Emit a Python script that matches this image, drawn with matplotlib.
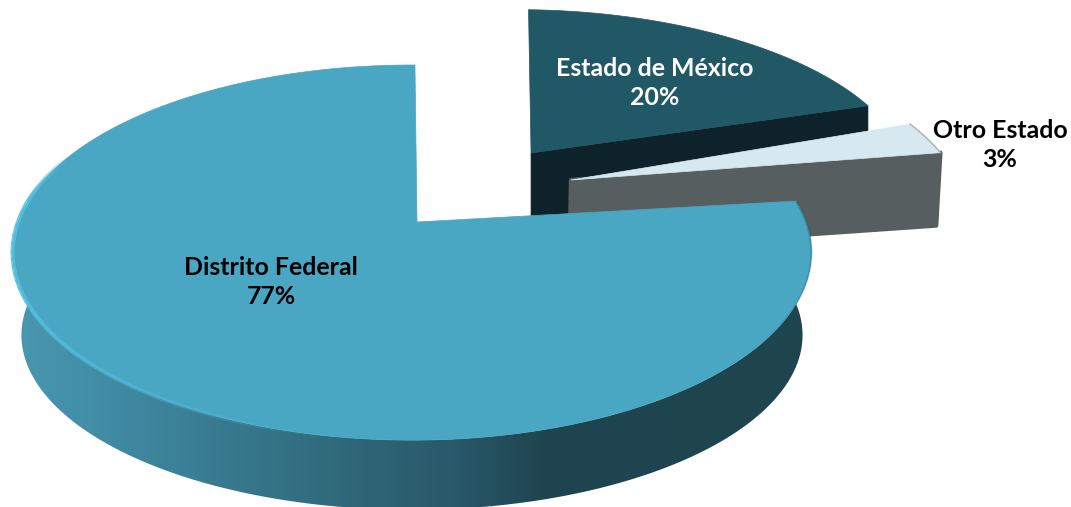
import numpy as np
import matplotlib
matplotlib.use("Agg")
import matplotlib.pyplot as plt
from matplotlib.collections import LineCollection
from matplotlib.colors import LinearSegmentedColormap, to_rgb
from matplotlib.patches import Polygon

categories = ["Distrito Federal", "Estado de México", "Otro Estado"]
values = [77, 20, 3]
labels = ["77%", "20%", "3%"]

# order the slices are laid out clockwise, starting from the top
layout = [1, 2, 0]
explode = {0: (0.0, 0.0), 1: (0.33, 0.435), 2: (0.44, 0.262)}
apex_shift = {0: (0.0127, 0.0), 1: (-0.008, -0.032), 2: (-0.021, -0.023)}
turn = {0: 0.5, 1: 2.0, 2: -1.0}
top_colors = {0: "#49a7c3", 1: "#215865", 2: "#d6e9f0"}
wall_colors = {1: "#0e2229", 2: "#565e60"}
wall_h = {0: 85, 1: 62, 2: 68}
shrink = {0: 0.978, 1: 1.0, 2: 0.992}

# fake 3d: perspective squeeze of the pie disc
CX, CY = 412, 222
R = 394
A, C = -146.4, 0.163


def project(u, v, i=None):
    s = 1 / (C * v + 1)
    x = CX + R * u * s
    y = (A * v + CY) * s
    if i is not None:
        x = CX + (x - CX) * shrink[i]
        y = y + wall_h[i] * (1 + 0.18 * v)
    return x, y


def wedge(i, a0, a1, low=False):
    t = np.radians(np.linspace(a0, a1, 300) + turn[i])
    du, dv = explode[i]
    x, y = project(du + np.sin(t), dv + np.cos(t), i if low else None)
    return np.column_stack([x, y])


def apex(i, low=False):
    du, dv = explode[i]
    su, sv = apex_shift[i]
    return project(du + su, dv + sv, i if low else None)


angles = {}
start = 0
for i in layout:
    angles[i] = (start, start + values[i] * 3.6)
    start += values[i] * 3.6

fig = plt.figure(figsize=(10.71, 5.07), dpi=100)
ax = fig.add_axes([0, 0, 1, 1])

# walls of the two pulled out slices, straight side only
for i, z in [(1, 1), (2, 2)]:
    a = angles[i][1]
    pts = [apex(i), wedge(i, a, a + 1)[0], wedge(i, a, a + 1, True)[0], apex(i, True)]
    ax.add_patch(Polygon(pts, closed=True, fc=wall_colors[i], ec=wall_colors[i],
                         lw=3 if i == 2 else 0.5, joinstyle="round", zorder=z))

for i in [1, 2]:
    a0, a1 = angles[i]
    pts = np.vstack([[apex(i)], wedge(i, a0, a1)])
    ax.add_patch(Polygon(pts, closed=True, fc=top_colors[i], ec=top_colors[i], lw=0.5, zorder=3))

# bevel on the outer edge of the small slice
a0, a1 = angles[2]
ax.plot(*wedge(2, a0, a1).T, color="#a9b3b6", lw=1.0, zorder=3)

# main slice: wall with shading from left to right
a0, a1 = angles[0]
upper = wedge(0, a0, a1)
lower = wedge(0, a0, a1, True)
wall = Polygon(np.vstack([upper, lower[::-1]]), closed=True, fc="none", ec="none", zorder=4)
ax.add_patch(wall)
cmap = LinearSegmentedColormap.from_list("wall", [
    (0.0, "#4a97b0"), (0.1, "#418ea6"), (0.28, "#37788d"), (0.42, "#2f6879"),
    (0.55, "#29596a"), (0.66, "#1f4550"), (1.0, "#1e444e")])
img = ax.imshow(np.linspace(0, 1, 512).reshape(1, -1), cmap=cmap, extent=(10, 815, 507, 190),
                aspect="auto", zorder=4)
img.set_clip_path(wall)

ax.add_patch(Polygon(np.vstack([[apex(0)], upper]), closed=True, fc=top_colors[0], ec=top_colors[0], lw=0.5, zorder=5))

# light rim bottom left, dark rim on the right
rim = wedge(0, 190, 292)
segs = np.stack([rim[:-1], rim[1:]], axis=1)
fade = np.minimum(np.linspace(0, 1, len(segs)) * 1.8, 1) * np.minimum(np.linspace(1, 0, len(segs)) * 8, 1)
rgba = np.zeros((len(segs), 4))
rgba[:, :3] = to_rgb("#55bfe0")
rgba[:, 3] = fade
ax.add_collection(LineCollection(segs, colors=rgba, linewidths=3, zorder=6))

rim = wedge(0, 83, 125)
segs = np.stack([rim[:-1], rim[1:]], axis=1)
rgba = np.zeros((len(segs), 4))
rgba[:, :3] = to_rgb("#2a5a69")
rgba[:, 3] = np.linspace(0.5, 0.05, len(segs))
ax.add_collection(LineCollection(segs, colors=rgba, linewidths=1.5, zorder=6))

text_pos = {0: (271, 282), 1: (655, 83), 2: (1000, 145)}
text_col = {0: "black", 1: "white", 2: "black"}
for i in range(3):
    ax.text(text_pos[i][0], text_pos[i][1], categories[i] + "\n" + labels[i], ha="center", va="center",
            color=text_col[i], fontsize=17.9, fontweight="bold", family="Lato", linespacing=1.3, zorder=10)

ax.set_xlim(0, 1071)
ax.set_ylim(507, 0)
ax.axis("off")

fig.savefig("out.png", dpi=100, facecolor="white")
